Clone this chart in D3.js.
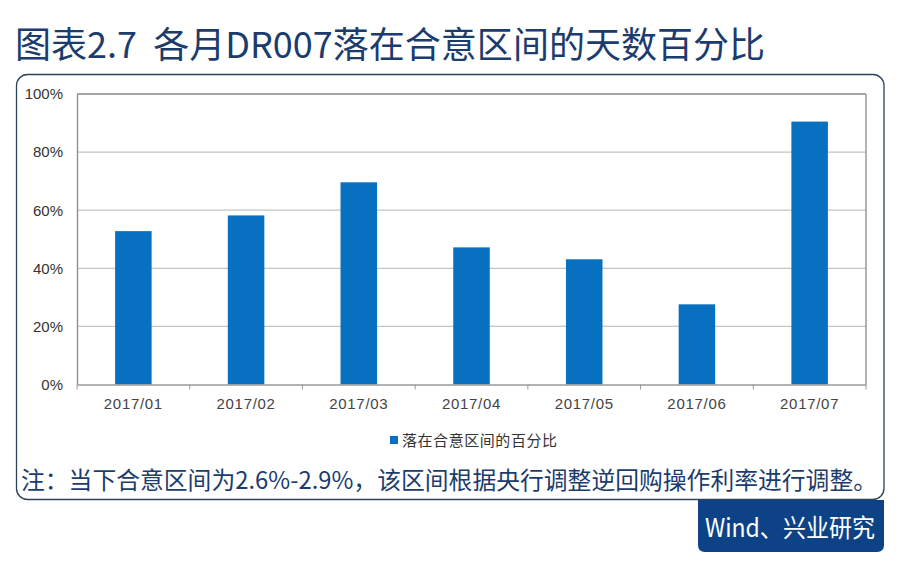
<!DOCTYPE html>
<html><head><meta charset="utf-8">
<script src="https://cdn.jsdelivr.net/npm/d3@7/dist/d3.min.js"></script>
<style>html,body{margin:0;padding:0;background:#fff;}svg{display:block;}</style>
</head><body>
<svg id="c" width="900" height="566"></svg>
<script>
const categories = ["2017/01","2017/02","2017/03","2017/04","2017/05","2017/06","2017/07"];
const values = [52.8, 58.2, 69.6, 47.2, 43.1, 27.6, 90.5];
const yTicks = [0, 20, 40, 60, 80, 100];
const titleText = "图表2.7  各月DR007落在合意区间的天数百分比";
const legendText = "落在合意区间的百分比";
const noteText = "注：当下合意区间为2.6%-2.9%，该区间根据央行调整逆回购操作利率进行调整。";
const sourceText = "Wind、兴业研究";

const svg = d3.select("#c");
const cjk = "'Noto Sans CJK SC','Noto Sans',sans-serif";
const navy = "#1b3c6d";

// title
svg.append("text").attr("x", 15).attr("y", 58)
  .attr("font-family", cjk).attr("font-size", 36).attr("font-weight", 400)
  .style("white-space", "pre")
  .attr("fill", navy).attr("textLength", 750).attr("lengthAdjust", "spacingAndGlyphs")
  .text(titleText);

// outer box
svg.append("rect").attr("x", 16.5).attr("y", 74.5).attr("width", 867.5).attr("height", 425)
  .attr("rx", 11).attr("fill", "#fff").attr("stroke", "#2b4258").attr("stroke-width", 1.3);

// source box
const sb = {x: 698, y: 500, w: 186, h: 52, r: 7};
svg.append("path").attr("fill", "#0d4386")
  .attr("d", `M${sb.x},${sb.y} H${sb.x+sb.w} V${sb.y+sb.h-sb.r} Q${sb.x+sb.w},${sb.y+sb.h} ${sb.x+sb.w-sb.r},${sb.y+sb.h} H${sb.x+sb.r} Q${sb.x},${sb.y+sb.h} ${sb.x},${sb.y+sb.h-sb.r} Z`);
svg.append("text").attr("x", 705).attr("y", 537)
  .attr("font-family", cjk).attr("font-size", 25).attr("fill", "#fff")
  .attr("textLength", 170).attr("lengthAdjust", "spacingAndGlyphs").text(sourceText);

// plot
const L = 77, R = 866, T = 94, B = 384.5;
const x = d3.scaleBand().domain(categories).range([L, R]).paddingInner(0.676).paddingOuter(0.338);
const y = d3.scaleLinear().domain([0, 100]).range([B, T]);

// gridlines
const g = svg.append("g");
g.selectAll("line.grid").data(yTicks.filter(d => d > 0 && d < 100)).join("line")
  .attr("x1", L).attr("x2", R).attr("y1", d => y(d)).attr("y2", d => y(d))
  .attr("stroke", "#c4c4c4").attr("stroke-width", 1.3);

// bars
g.selectAll("rect.bar").data(values).join("rect")
  .attr("x", (d, i) => x(categories[i])).attr("width", x.bandwidth())
  .attr("y", d => y(d)).attr("height", d => B - y(d)).attr("fill", "#0870c0");

// frame top and right
g.append("line").attr("x1", L).attr("x2", R).attr("y1", T).attr("y2", T).attr("stroke", "#8a8a8a").attr("stroke-width", 1.3);
g.append("line").attr("x1", R).attr("x2", R).attr("y1", T).attr("y2", B).attr("stroke", "#8a8a8a").attr("stroke-width", 1.3);

// y axis
const ya = svg.append("g").attr("transform", `translate(${L},0)`)
  .call(d3.axisLeft(y).tickValues(yTicks).tickSize(0).tickPadding(14).tickFormat(d => d + "%"));
ya.select(".domain").attr("stroke", "#8a8a8a").attr("stroke-width", 1.3);
ya.selectAll("text").attr("font-family", "'Liberation Sans',Arial,sans-serif").attr("font-size", 15).attr("fill", "#333");

// x axis
const xa = svg.append("g").attr("transform", `translate(0,${B})`)
  .call(d3.axisBottom(x).tickSize(0).tickPadding(14));
xa.select(".domain").attr("stroke", "#9a9a9a").attr("stroke-width", 1.3);
xa.selectAll("text").attr("font-family", "'Liberation Sans',Arial,sans-serif").attr("font-size", 15)
  .attr("letter-spacing", 0.7).attr("fill", "#444");
// category separator ticks
const step = x.step();
xa.selectAll("line.sep").data(d3.range(categories.length + 1)).join("line")
  .attr("x1", i => L + i * step).attr("x2", i => L + i * step)
  .attr("y1", 0).attr("y2", 5).attr("stroke", "#9a9a9a").attr("stroke-width", 1);

// legend
svg.append("rect").attr("x", 390).attr("y", 436).attr("width", 8).attr("height", 8).attr("fill", "#0870c0");
svg.append("text").attr("x", 402).attr("y", 446)
  .attr("font-family", cjk).attr("font-size", 15).attr("fill", "#333")
  .attr("textLength", 155).attr("lengthAdjust", "spacing").text(legendText);

// note
svg.append("text").attr("x", 21).attr("y", 489)
  .attr("font-family", cjk).attr("font-size", 24).attr("fill", navy)
  .attr("textLength", 856).attr("lengthAdjust", "spacingAndGlyphs").text(noteText);
</script>
</body></html>
